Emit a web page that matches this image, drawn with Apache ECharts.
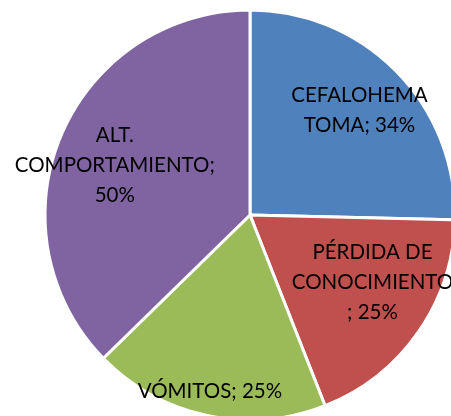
<!DOCTYPE html>
<html>
<head>
<meta charset="utf-8">
<script src="https://cdn.jsdelivr.net/npm/echarts@6/dist/echarts.min.js"></script>
<style>
  html,body{margin:0;padding:0;background:#fff;}
  #main{width:451px;height:416px;}
</style>
</head>
<body>
<div id="main"></div>
<script>
var categories=["CEFALOHEMATOMA","PÉRDIDA DE CONOCIMIENTO","VÓMITOS","ALT. COMPORTAMIENTO"];
var values=[34,25,25,50];
var labelTexts=["CEFALOHEMA\nTOMA; 34%","PÉRDIDA DE\nCONOCIMIENTO\n; 25%","VÓMITOS; 25%","ALT.\nCOMPORTAMIENTO;\n50%"];
var colors=["#4F81BD","#C0504D","#9BBB59","#8064A2"];
// nudges from the default inside spot toward where the labels sit in the picture
var labelShift=[[34,-31],[36,7],[-18,73],[-38,-9]];

var myChart=echarts.init(document.getElementById('main'));

var data=categories.map(function(name,i){
    return {name:name,value:values[i],itemStyle:{color:colors[i]}};
});

var option={
    animation:false,
    series:[{
        type:'pie',
        center:[250,215],
        radius:[0,205],
        startAngle:90,
        clockwise:true,
        avoidLabelOverlap:false,
        itemStyle:{borderColor:'#fff',borderWidth:3},
        label:{
            show:true,
            position:'inside',
            color:'#000',
            fontFamily:'Lato',
            fontSize:20.5,
            lineHeight:30,
            align:'center',
            formatter:function(p){return labelTexts[p.dataIndex];}
        },
        labelLine:{show:false},
        labelLayout:function(p){
            var s=labelShift[p.dataIndex];
            return {dx:s[0],dy:s[1]};
        },
        emphasis:{disabled:true},
        data:data
    }]
};

myChart.setOption(option);
</script>
</body>
</html>
